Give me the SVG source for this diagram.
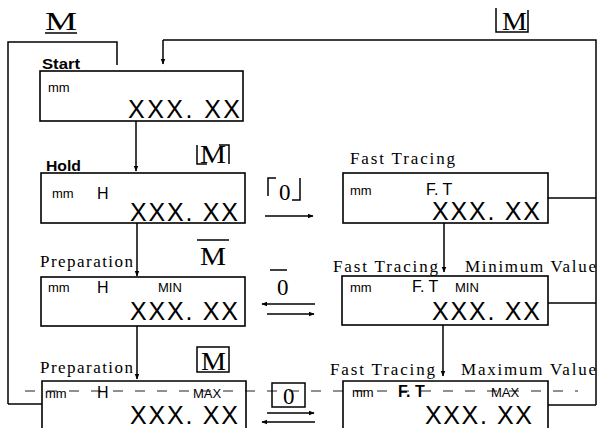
<svg xmlns="http://www.w3.org/2000/svg" width="598" height="428" viewBox="0 0 598 428">
<defs>
<marker id="ah" viewBox="0 0 10 10" refX="9" refY="5" markerWidth="6" markerHeight="6" orient="auto" markerUnits="userSpaceOnUse">
<path d="M0,1 L10,5 L0,9 Z" fill="#000"/>
</marker>
<style>
.box{fill:none;stroke:#000;stroke-width:1.6}
.ln{fill:none;stroke:#000;stroke-width:1.5}
.dash{fill:none;stroke:#222;stroke-width:1.2;stroke-dasharray:10 12}
.big{font-family:"Liberation Sans",Arial,sans-serif;font-size:25px;fill:#000}
.mm{font-family:"Liberation Sans",Arial,sans-serif;font-size:13px;fill:#000}
.mid{font-family:"Liberation Sans",Arial,sans-serif;font-size:16px;fill:#000}
.tag{font-family:"Liberation Sans",Arial,sans-serif;font-size:13px;fill:#000}
.lbl{font-family:"Liberation Sans",Arial,sans-serif;font-size:14px;font-weight:bold;fill:#000}
.ser{font-family:"Liberation Serif","Times New Roman",serif;font-size:17px;fill:#000}
.key{font-family:"Liberation Serif","Times New Roman",serif;font-size:26px;fill:#000}
.zero{font-family:"Liberation Serif","Times New Roman",serif;font-size:23px;fill:#000}
</style>
</defs>

<g id="connectors">
<path class="ln" d="M8,404 V42 H117 V65"/>
<path class="ln" d="M8,404 H42"/>
<path class="ln" d="M163,40 H596 V405"/>
<path class="ln" d="M163,40 V64" marker-end="url(#ah)"/>
<path class="ln" d="M548,198 H596"/>
<path class="ln" d="M548,303 H596"/>
<path class="ln" d="M548,405 H596"/>
<path class="ln" d="M136,121 V171" marker-end="url(#ah)"/>
<path class="ln" d="M137,223 V276" marker-end="url(#ah)"/>
<path class="ln" d="M137,326 V379" marker-end="url(#ah)"/>
<path class="ln" d="M444,223 V272" marker-end="url(#ah)"/>
<path class="ln" d="M443,325 V376" marker-end="url(#ah)"/>
<path class="ln" d="M265,216 H313" marker-end="url(#ah)"/>
<path class="ln" d="M315,304 H262" marker-end="url(#ah)"/>
<path class="ln" d="M267,314 H314" marker-end="url(#ah)"/>
<path class="ln" d="M267,413 H314" marker-end="url(#ah)"/>
<path class="ln" d="M315,422 H262" marker-end="url(#ah)"/>
<path class="dash" d="M25,391 H578"/>
</g>

<g id="key-M-top-left">
<text class="key" x="45" y="30" textLength="32" lengthAdjust="spacingAndGlyphs">M</text>
<path class="ln" d="M45,33 H77"/>
</g>
<g id="key-M-top-right">
<text class="key" x="502" y="30" textLength="25" lengthAdjust="spacingAndGlyphs">M</text>
<path class="ln" d="M496,8 V32 H528 V10"/>
</g>

<g id="start">
<text class="lbl" x="42" y="69" textLength="38" lengthAdjust="spacingAndGlyphs">Start</text>
<rect class="box" x="40" y="71" width="203" height="50"/>
<text class="mm" x="48" y="92">mm</text>
<text class="big" x="128" y="118" textLength="112" lengthAdjust="spacing">XXX. XX</text>
</g>

<g id="hold">
<text class="lbl" x="46" y="171" textLength="35" lengthAdjust="spacingAndGlyphs">Hold</text>
<rect class="box" x="41" y="173" width="204" height="50"/>
<text class="mm" x="52" y="198">mm</text>
<text class="mid" x="97" y="199">H</text>
<text class="big" x="130" y="221" textLength="108" lengthAdjust="spacing">XXX. XX</text>
</g>

<g id="key-M-hold">
<text class="key" x="200" y="163" textLength="26" lengthAdjust="spacingAndGlyphs">M</text>
<path class="ln" d="M197,145 V164 H207 M229,164 V145 H219"/>
</g>

<g id="prep-min">
<text class="ser" x="40" y="267" textLength="93" lengthAdjust="spacing">Preparation</text>
<rect class="box" x="41" y="277" width="204" height="49"/>
<text class="mm" x="48" y="292">mm</text>
<text class="mid" x="97" y="293">H</text>
<text class="tag" x="158" y="292">MIN</text>
<text class="big" x="130" y="320" textLength="108" lengthAdjust="spacing">XXX. XX</text>
</g>

<g id="key-M-prep">
<text class="key" x="200" y="265" textLength="26" lengthAdjust="spacingAndGlyphs">M</text>
<path class="ln" d="M197,240 H229"/>
</g>

<g id="prep-max">
<text class="ser" x="40" y="373" textLength="93" lengthAdjust="spacing">Preparation</text>
<path class="box" d="M42,428 V381 H246 V428"/>
<text class="mm" x="45" y="398">mm</text>
<text class="mid" x="97" y="398">H</text>
<text class="tag" x="193" y="398">MAX</text>
<text class="big" x="130" y="424" font-size="24" textLength="108" lengthAdjust="spacing">XXX. XX</text>
</g>

<g id="key-M-prepmax">
<text class="key" x="201" y="370" textLength="25" lengthAdjust="spacingAndGlyphs">M</text>
<rect class="ln" x="197" y="347" width="32" height="25"/>
</g>

<g id="fast">
<text class="ser" x="350" y="164" textLength="105" lengthAdjust="spacing">Fast Tracing</text>
<rect class="box" x="343" y="173" width="205" height="50"/>
<text class="mm" x="350" y="195">mm</text>
<text class="mid" x="426" y="195">F. T</text>
<text class="big" x="432" y="220" textLength="108" lengthAdjust="spacing">XXX. XX</text>
</g>

<g id="fast-min">
<text class="ser" x="333" y="272" textLength="105" lengthAdjust="spacing">Fast Tracing</text>
<text class="ser" x="465" y="272" textLength="131" lengthAdjust="spacing">Minimum Value</text>
<rect class="box" x="342" y="276" width="206" height="49"/>
<text class="mm" x="350" y="292">mm</text>
<text class="mid" x="412" y="292">F. T</text>
<text class="tag" x="455" y="292">MIN</text>
<text class="big" x="432" y="320" textLength="108" lengthAdjust="spacing">XXX. XX</text>
</g>

<g id="fast-max">
<text class="ser" x="330" y="375" textLength="105" lengthAdjust="spacing">Fast Tracing</text>
<text class="ser" x="461" y="375" textLength="135" lengthAdjust="spacing">Maximum Value</text>
<path class="box" d="M343,428 V381 H548 V428"/>
<text class="mm" x="352" y="397">mm</text>
<text class="mid" x="398" y="397" font-weight="bold">F. T</text>
<text class="tag" x="491" y="397">MAX</text>
<text class="big" x="425" y="424" font-size="24" textLength="107" lengthAdjust="spacing">XXX. XX</text>
</g>

<g id="key-0-top">
<text class="zero" x="279" y="200">0</text>
<path class="ln" d="M268,196 V178 H276 M300,178 V200 H292"/>
</g>
<g id="key-0-mid">
<text class="zero" x="277" y="295">0</text>
<path class="ln" d="M270,270 H287"/>
</g>
<g id="key-0-bottom">
<text class="zero" x="283" y="404">0</text>
<rect class="ln" x="272" y="383" width="33" height="24"/>
</g>
</svg>
